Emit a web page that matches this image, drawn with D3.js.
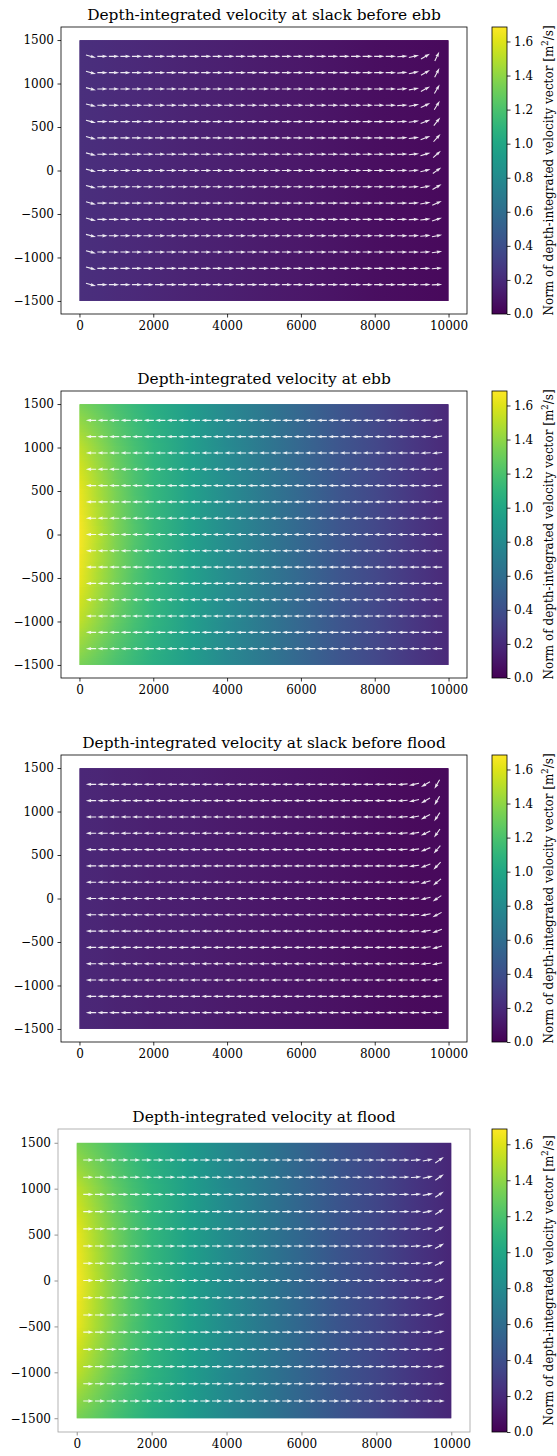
<!DOCTYPE html>
<html>
<head>
<meta charset="utf-8">
<script src="https://cdn.jsdelivr.net/npm/d3@7"></script>
<style>
  body { margin: 0; background: #fff; }
  svg { display: block; font-family: "DejaVu Serif", serif; }
</style>
</head>
<body>
<svg id="chart" width="557" height="1456"></svg>
<script>
/*
DEPTH-INTEGRATED VELOCITY OVER THE TIDAL CYCLE
shaded norm field + unit direction arrows, one panel per tide phase
*/

const panelTitles = [
  "Depth-integrated velocity at slack before ebb",
  "Depth-integrated velocity at ebb",
  "Depth-integrated velocity at slack before flood",
  "Depth-integrated velocity at flood",
];

const xTicks = [0, 2000, 4000, 6000, 8000, 10000];
const yTicks = [-1500, -1000, -500, 0, 500, 1000, 1500];
const colorbarTicks = [0, 0.2, 0.4, 0.6, 0.8, 1.0, 1.2, 1.4, 1.6];
const normMax = 1.685;

// sample points of the norm field [m2/s]
const fieldX = [0, 500, 1000, 1500, 2000, 3000, 4000, 5000, 6000, 7000, 8000, 9000, 10000];
const fieldY = [1500, 1000, 500, 0, -500, -1000, -1500];

const normSlackEbb = [
  [0.21, 0.20, 0.19, 0.18, 0.17, 0.15, 0.13, 0.11, 0.09, 0.07, 0.05, 0.035, 0.02],
  [0.21, 0.20, 0.19, 0.18, 0.17, 0.15, 0.13, 0.11, 0.09, 0.07, 0.05, 0.035, 0.02],
  [0.21, 0.20, 0.19, 0.18, 0.17, 0.15, 0.13, 0.11, 0.09, 0.07, 0.05, 0.035, 0.02],
  [0.21, 0.20, 0.19, 0.18, 0.17, 0.15, 0.13, 0.11, 0.09, 0.07, 0.05, 0.035, 0.02],
  [0.21, 0.20, 0.19, 0.18, 0.17, 0.15, 0.13, 0.11, 0.09, 0.07, 0.05, 0.035, 0.02],
  [0.21, 0.20, 0.19, 0.18, 0.17, 0.15, 0.13, 0.11, 0.09, 0.07, 0.05, 0.035, 0.02],
  [0.21, 0.20, 0.19, 0.18, 0.17, 0.15, 0.13, 0.11, 0.09, 0.07, 0.05, 0.035, 0.02],
];
const normEbb = [
  [1.34, 1.27, 1.19, 1.12, 1.05, 0.92, 0.78, 0.66, 0.54, 0.44, 0.35, 0.26, 0.18],
  [1.52, 1.40, 1.28, 1.18, 1.09, 0.94, 0.79, 0.66, 0.54, 0.44, 0.35, 0.26, 0.18],
  [1.63, 1.47, 1.33, 1.21, 1.11, 0.95, 0.80, 0.67, 0.55, 0.44, 0.35, 0.26, 0.18],
  [1.67, 1.50, 1.35, 1.22, 1.12, 0.95, 0.80, 0.67, 0.55, 0.44, 0.35, 0.26, 0.18],
  [1.63, 1.47, 1.33, 1.21, 1.11, 0.95, 0.80, 0.67, 0.55, 0.44, 0.35, 0.26, 0.18],
  [1.52, 1.40, 1.28, 1.18, 1.09, 0.94, 0.79, 0.66, 0.54, 0.44, 0.35, 0.26, 0.18],
  [1.34, 1.27, 1.19, 1.12, 1.05, 0.92, 0.78, 0.66, 0.54, 0.44, 0.35, 0.26, 0.18],
];
const normSlackFlood = [
  [0.17, 0.16, 0.15, 0.14, 0.13, 0.12, 0.105, 0.09, 0.075, 0.06, 0.045, 0.03, 0.02],
  [0.17, 0.16, 0.15, 0.14, 0.13, 0.12, 0.105, 0.09, 0.075, 0.06, 0.045, 0.03, 0.02],
  [0.17, 0.16, 0.15, 0.14, 0.13, 0.12, 0.105, 0.09, 0.075, 0.06, 0.045, 0.03, 0.02],
  [0.17, 0.16, 0.15, 0.14, 0.13, 0.12, 0.105, 0.09, 0.075, 0.06, 0.045, 0.03, 0.02],
  [0.17, 0.16, 0.15, 0.14, 0.13, 0.12, 0.105, 0.09, 0.075, 0.06, 0.045, 0.03, 0.02],
  [0.17, 0.16, 0.15, 0.14, 0.13, 0.12, 0.105, 0.09, 0.075, 0.06, 0.045, 0.03, 0.02],
  [0.17, 0.16, 0.15, 0.14, 0.13, 0.12, 0.105, 0.09, 0.075, 0.06, 0.045, 0.03, 0.02],
];
const normFlood = [
  [1.34, 1.27, 1.19, 1.12, 1.05, 0.92, 0.78, 0.66, 0.54, 0.44, 0.35, 0.26, 0.18],
  [1.52, 1.40, 1.28, 1.18, 1.09, 0.94, 0.79, 0.66, 0.54, 0.44, 0.35, 0.26, 0.18],
  [1.63, 1.47, 1.33, 1.21, 1.11, 0.95, 0.80, 0.67, 0.55, 0.44, 0.35, 0.26, 0.18],
  [1.67, 1.50, 1.35, 1.22, 1.12, 0.95, 0.80, 0.67, 0.55, 0.44, 0.35, 0.26, 0.18],
  [1.63, 1.47, 1.33, 1.21, 1.11, 0.95, 0.80, 0.67, 0.55, 0.44, 0.35, 0.26, 0.18],
  [1.52, 1.40, 1.28, 1.18, 1.09, 0.94, 0.79, 0.66, 0.54, 0.44, 0.35, 0.26, 0.18],
  [1.34, 1.27, 1.19, 1.12, 1.05, 0.92, 0.78, 0.66, 0.54, 0.44, 0.35, 0.26, 0.18],
];

// arrow positions
const quiverX = [312.5, 625, 937.5, 1250, 1562.5, 1875, 2187.5, 2500, 2812.5, 3125,
  3437.5, 3750, 4062.5, 4375, 4687.5, 5000, 5312.5, 5625, 5937.5, 6250, 6562.5, 6875,
  7187.5, 7500, 7812.5, 8125, 8437.5, 8750, 9062.5, 9375, 9687.5];
const quiverY = [1312.5, 1125, 937.5, 750, 562.5, 375, 187.5, 0,
  -187.5, -375, -562.5, -750, -937.5, -1125, -1312.5];

// arrow direction in degrees (0 = east, 90 = north): main direction,
// first column, and the last four columns (one row per quiverY)
const slackEbbDir = 0;
const slackEbbFirst = [-15, -15, -15, -15, -15, -15, -15, -15, -15, -15, -15, -15, -15, -15, -15];
const slackEbbLast = [
  [5, 12, 30, 65], [5, 12, 30, 63], [4, 10, 28, 60], [4, 10, 25, 58], [3, 8, 22, 52],
  [3, 7, 20, 48], [2, 6, 17, 42], [2, 5, 14, 36], [2, 4, 11, 30], [1, 3, 9, 24],
  [1, 2, 7, 18], [1, 2, 5, 12], [0, 1, 3, 8], [0, 1, 2, 4], [0, 0, 1, 2],
];
const ebbDir = 180;
const ebbFirst = [180, 180, 180, 180, 180, 180, 180, 180, 180, 180, 180, 180, 180, 180, 180];
const ebbLast = [
  [180, 180, 182, 188], [180, 180, 182, 188], [180, 180, 182, 186], [180, 180, 181, 185],
  [180, 180, 181, 184], [180, 180, 181, 183], [180, 180, 180, 182], [180, 180, 180, 181],
  [180, 180, 180, 181], [180, 180, 180, 180], [180, 180, 180, 180], [180, 180, 180, 180],
  [180, 180, 180, 180], [180, 180, 180, 180], [180, 180, 180, 180],
];
const slackFloodDir = 180;
const slackFloodFirst = [180, 180, 180, 180, 180, 180, 180, 180, 180, 180, 180, 180, 180, 180, 180];
const slackFloodLast = [
  [185, 192, 210, 240], [185, 192, 210, 240], [184, 190, 208, 237], [184, 190, 205, 235],
  [183, 188, 202, 230], [183, 187, 200, 226], [182, 186, 197, 220], [182, 185, 194, 214],
  [182, 184, 191, 208], [181, 183, 189, 202], [181, 182, 187, 196], [181, 182, 185, 190],
  [180, 181, 183, 186], [180, 181, 182, 183], [180, 180, 181, 181],
];
const floodDir = 0;
const floodFirst = [0, 0, 0, 0, 0, 0, 0, 0, 0, 0, 0, 0, 0, 0, 0];
const floodLast = [
  [1, 4, 12, 35], [1, 4, 12, 35], [1, 4, 11, 34], [1, 4, 11, 33], [1, 3, 10, 31],
  [1, 3, 9, 29], [1, 3, 8, 26], [0, 2, 7, 23], [0, 2, 6, 20], [0, 2, 5, 16],
  [0, 1, 4, 12], [0, 1, 3, 9], [0, 1, 2, 6], [0, 0, 1, 3], [0, 0, 0, 1],
];

const svg = d3.select("#chart");
const defs = svg.append("defs");
const color = d3.scaleSequential(d3.interpolateViridis).domain([0, normMax]);

// figure layout of each panel (axes box in px)
const panels = [
  { title: panelTitles[0], norm: normSlackEbb, dir: slackEbbDir, first: slackEbbFirst, last: slackEbbLast,
    box: { left: 61, right: 467, top: 27, bottom: 314 }, spine: "#000" },
  { title: panelTitles[1], norm: normEbb, dir: ebbDir, first: ebbFirst, last: ebbLast,
    box: { left: 61, right: 467, top: 391, bottom: 678 }, spine: "#000" },
  { title: panelTitles[2], norm: normSlackFlood, dir: slackFloodDir, first: slackFloodFirst, last: slackFloodLast,
    box: { left: 61, right: 467, top: 755, bottom: 1042 }, spine: "#000" },
  { title: panelTitles[3], norm: normFlood, dir: floodDir, first: floodFirst, last: floodLast,
    box: { left: 58, right: 470, top: 1129, bottom: 1432 }, spine: "#a0a0a0" },
];

function drawField(g, x, y, norm, id) {
  // the norm varies smoothly, so draw thin horizontal strips,
  // each one shaded along x by a gradient through the sample columns
  const profile = d3.scaleLinear().domain(fieldY).range(norm).clamp(true);
  const x0 = x(fieldX[0]);
  const x1 = x(fieldX[fieldX.length - 1]);
  const yTop = y(fieldY[0]);
  const yBot = y(fieldY[fieldY.length - 1]);
  for (let py = yTop, k = 0; py < yBot; py += 1, k++) {
    const values = profile(y.invert(Math.min(py + 0.5, yBot)));
    const grad = defs
      .append("linearGradient")
      .attr("id", `${id}-row${k}`)
      .attr("x1", 0)
      .attr("x2", 1)
      .attr("y1", 0)
      .attr("y2", 0);
    grad
      .selectAll("stop")
      .data(fieldX)
      .join("stop")
      .attr("offset", (d) => (x(d) - x0) / (x1 - x0))
      .attr("stop-color", (d, i) => color(values[i]));
    g.append("rect")
      .attr("x", x0)
      .attr("y", py)
      .attr("width", x1 - x0)
      .attr("height", Math.min(1.6, yBot - py))
      .attr("fill", `url(#${id}-row${k})`);
  }
}

function arrowPath(len) {
  // matplotlib-like quiver arrow, centred on its anchor point
  const w = 1.1;
  const h = len / 2;
  return [
    [-h, -w / 2], [h - 4.5 * w, -w / 2], [h - 5 * w, -1.5 * w], [h, 0],
    [h - 5 * w, 1.5 * w], [h - 4.5 * w, w / 2], [-h, w / 2],
  ];
}

function arrowAngle(p, row, col) {
  if (col === 0) return p.first[row];
  const k = col - (quiverX.length - 4);
  if (k >= 0) return p.last[row][k];
  return p.dir;
}

function drawPanel(p, idx) {
  const { left, right, top, bottom } = p.box;
  const x = d3.scaleLinear().domain([-500, 10500]).range([left, right]);
  const y = d3.scaleLinear().domain([-1650, 1650]).range([bottom, top]);
  const g = svg.append("g").attr("class", "panel");

  drawField(g.append("g"), x, y, p.norm, `field${idx}`);

  // arrows
  const cells = [];
  quiverY.forEach((qy, r) => {
    quiverX.forEach((qx, c) => {
      cells.push({ x: qx, y: qy, angle: arrowAngle(p, r, c) });
    });
  });
  const line = d3.line();
  const shape = line(arrowPath(10.4)) + "Z";
  g.append("g")
    .selectAll("path")
    .data(cells)
    .join("path")
    .attr("d", shape)
    .attr("transform", (d) => `translate(${x(d.x)},${y(d.y)}) rotate(${-d.angle})`)
    .attr("fill", "#fff")
    .attr("fill-opacity", 0.9);

  // axes
  const xAxis = g
    .append("g")
    .attr("transform", `translate(0,${bottom})`)
    .call(d3.axisBottom(x).tickValues(xTicks).tickFormat(d3.format("d")).tickSize(3.5).tickPadding(3.5));
  const yAxis = g
    .append("g")
    .attr("transform", `translate(${left},0)`)
    .call(d3.axisLeft(y).tickValues(yTicks).tickFormat(d3.format("d")).tickSize(3.5).tickPadding(3.5));
  for (let ax of [xAxis, yAxis]) {
    ax.select(".domain").remove();
    ax.selectAll("line").attr("stroke", p.spine === "#000" ? "#000" : "#777").attr("stroke-width", 0.8);
    ax.selectAll("text").attr("font-family", "DejaVu Serif").attr("font-size", 12).attr("fill", "#000");
  }

  g.append("rect")
    .attr("x", left)
    .attr("y", top)
    .attr("width", right - left)
    .attr("height", bottom - top)
    .attr("fill", "none")
    .attr("stroke", p.spine)
    .attr("stroke-width", 0.8);

  g.append("text")
    .attr("x", (left + right) / 2)
    .attr("y", top - 7)
    .attr("text-anchor", "middle")
    .attr("font-size", 15.4)
    .attr("fill", "#000")
    .text(p.title);

  drawColorbar(top, bottom, idx);
}

function drawColorbar(top, bottom, idx) {
  const cbLeft = 492;
  const cbWidth = 15;
  const c = d3.scaleLinear().domain([0, normMax]).range([bottom, top]);
  const grad = defs
    .append("linearGradient")
    .attr("id", `cbar${idx}`)
    .attr("x1", 0)
    .attr("x2", 0)
    .attr("y1", 1)
    .attr("y2", 0);
  grad
    .selectAll("stop")
    .data(d3.range(0, 1.0001, 0.05))
    .join("stop")
    .attr("offset", (d) => d)
    .attr("stop-color", (d) => d3.interpolateViridis(d));

  const g = svg.append("g").attr("class", "colorbar");
  g.append("rect")
    .attr("x", cbLeft)
    .attr("y", top)
    .attr("width", cbWidth)
    .attr("height", bottom - top)
    .attr("fill", `url(#cbar${idx})`)
    .attr("stroke", "#000")
    .attr("stroke-width", 0.8);

  const ax = g
    .append("g")
    .attr("transform", `translate(${cbLeft + cbWidth},0)`)
    .call(d3.axisRight(c).tickValues(colorbarTicks).tickFormat(d3.format(".1f")).tickSize(3.5).tickPadding(3.5));
  ax.select(".domain").remove();
  ax.selectAll("line").attr("stroke", "#000").attr("stroke-width", 0.8);
  ax.selectAll("text").attr("font-family", "DejaVu Serif").attr("font-size", 12).attr("fill", "#000");

  const label = g
    .append("text")
    .attr("transform", `translate(553,${(top + bottom) / 2}) rotate(-90)`)
    .attr("text-anchor", "middle")
    .attr("font-size", 12)
    .attr("fill", "#000");
  label.append("tspan").text("Norm of depth-integrated velocity vector [m");
  label.append("tspan").attr("font-size", 8.5).attr("dy", -5).text("2");
  label.append("tspan").attr("dy", 5).text("/s]");
}

panels.forEach((p, i) => drawPanel(p, i));
</script>
</body>
</html>
